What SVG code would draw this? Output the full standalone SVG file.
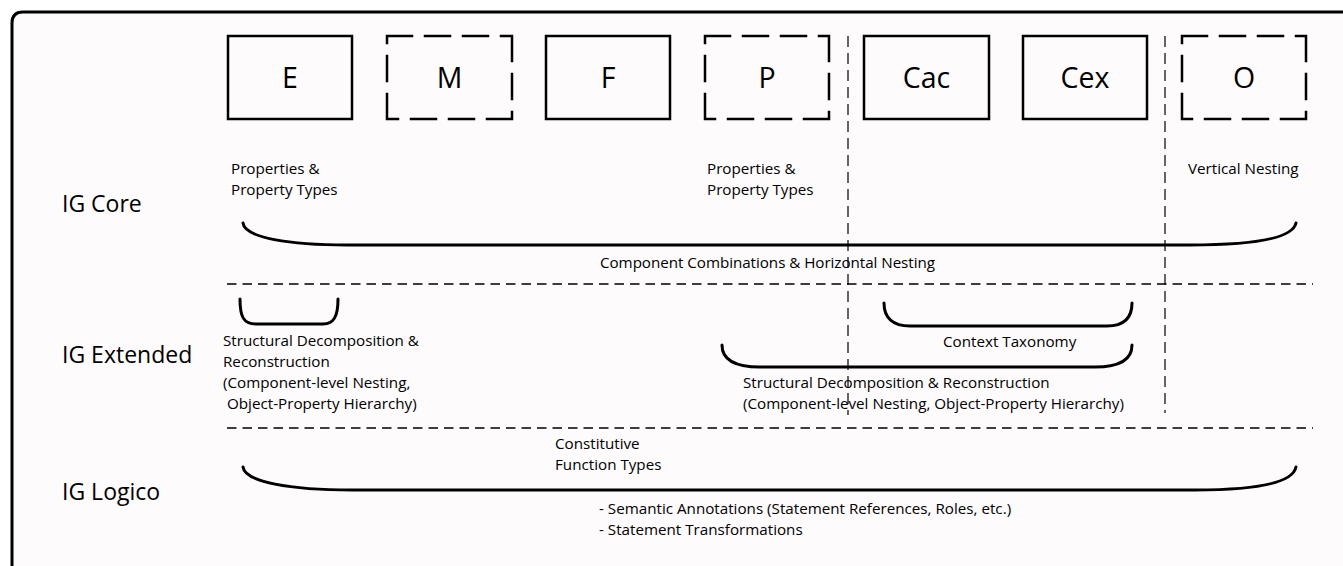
<svg xmlns="http://www.w3.org/2000/svg" width="1343" height="566" viewBox="0 0 1343 566">
<style>
  .frame{fill:#fdfbfc;stroke:#000;stroke-width:3}
  .box{fill:none;stroke:#000;stroke-width:2.5}
  .dbox{fill:none;stroke:#000;stroke-width:2.5;stroke-dasharray:25 13;stroke-linecap:square}
  .blabel{font-family:"Open Sans","Noto Sans",sans-serif;font-size:28.5px;fill:#000;text-anchor:middle}
  .row{font-family:"Open Sans","Noto Sans",sans-serif;font-size:23px;fill:#000}
  .small{font-family:"Open Sans","Noto Sans",sans-serif;font-size:15.2px;fill:#000}
  .hsep{fill:none;stroke:#000;stroke-width:1.3;stroke-dasharray:9.5 6}
  .vsep{fill:none;stroke:#000;stroke-width:1.2;stroke-dasharray:11 6}
  .brace{fill:none;stroke:#000;stroke-width:3;stroke-linecap:round}
</style>
<rect x="0" y="0" width="1343" height="566" fill="#fff"/>
<path class="frame" d="M12,575 V23 Q12,12 23,12 H1355 V575 Z"/>

<g id="separators">
  <line class="hsep" x1="227" y1="284" x2="1313" y2="284"/>
  <line class="hsep" x1="227" y1="428" x2="1313" y2="428"/>
  <line class="vsep" x1="848" y1="36" x2="848" y2="415"/>
  <line class="vsep" x1="1165" y1="36" x2="1165" y2="413"/>
</g>

<g id="node-E"><rect class="box" x="228" y="36" width="124" height="83"/><text class="blabel" x="290" y="88">E</text></g>
<g id="node-M"><path class="dbox" d="M387,36 H512 M512,36 V119 M512,119 H387 M387,119 V36"/><text class="blabel" x="449.5" y="88">M</text></g>
<g id="node-F"><rect class="box" x="546" y="36" width="124" height="83"/><text class="blabel" x="608" y="88">F</text></g>
<g id="node-P"><path class="dbox" d="M705,36 H829 M829,36 V119 M829,119 H705 M705,119 V36"/><text class="blabel" x="767" y="88">P</text></g>
<g id="node-Cac"><rect class="box" x="864" y="36" width="125" height="83"/><text class="blabel" x="926.5" y="88">Cac</text></g>
<g id="node-Cex"><rect class="box" x="1023" y="36" width="124" height="83"/><text class="blabel" x="1085" y="88">Cex</text></g>
<g id="node-O"><path class="dbox" d="M1182,36 H1306 M1306,36 V119 M1306,119 H1182 M1182,119 V36"/><text class="blabel" x="1244" y="88">O</text></g>

<g id="row-labels">
  <text class="row" x="62" y="212">IG Core</text>
  <text class="row" x="62" y="363">IG Extended</text>
  <text class="row" x="62" y="500">IG Logico</text>
</g>

<g id="braces">
  <path class="brace" d="M243,223 C245,238 290,245 347,245 L1190,245 C1260,245 1293,237 1296,223"/>
  <path class="brace" d="M240,299 C240,316 243,324 256,324 L323,324 C334,324 338,316 338,299"/>
  <path class="brace" d="M884,303 C884,318 893,326 910,326 L1107,326 C1124,326 1132,318 1132,303"/>
  <path class="brace" d="M722,345 C722,360 735,367 760,367 L1095,367 C1120,367 1132,360 1132,345"/>
  <path class="brace" d="M243,467 C245,482 290,490 352,490 L1195,490 C1260,490 1293,482 1296,467"/>
</g>

<g id="annotations">
  <text class="small" x="231" y="174">Properties &amp;</text>
  <text class="small" x="231" y="195">Property Types</text>
  <text class="small" x="707" y="174">Properties &amp;</text>
  <text class="small" x="707" y="195">Property Types</text>
  <text class="small" x="1188" y="174">Vertical Nesting</text>
  <text class="small" x="600" y="268" textLength="335" lengthAdjust="spacing">Component Combinations &amp; Horizontal Nesting</text>
  <text class="small" x="223" y="346">Structural Decomposition &amp;</text>
  <text class="small" x="223" y="367">Reconstruction</text>
  <text class="small" x="223" y="388">(Component-level Nesting,</text>
  <text class="small" x="227" y="409">Object-Property Hierarchy)</text>
  <text class="small" x="943" y="347">Context Taxonomy</text>
  <text class="small" x="743" y="388">Structural Decomposition &amp; Reconstruction</text>
  <text class="small" x="743" y="409">(Component-level Nesting, Object-Property Hierarchy)</text>
  <text class="small" x="555" y="449">Constitutive</text>
  <text class="small" x="555" y="470">Function Types</text>
  <text class="small" x="599" y="514">- Semantic Annotations (Statement References, Roles, etc.)</text>
  <text class="small" x="599" y="535">- Statement Transformations</text>
</g>
</svg>
